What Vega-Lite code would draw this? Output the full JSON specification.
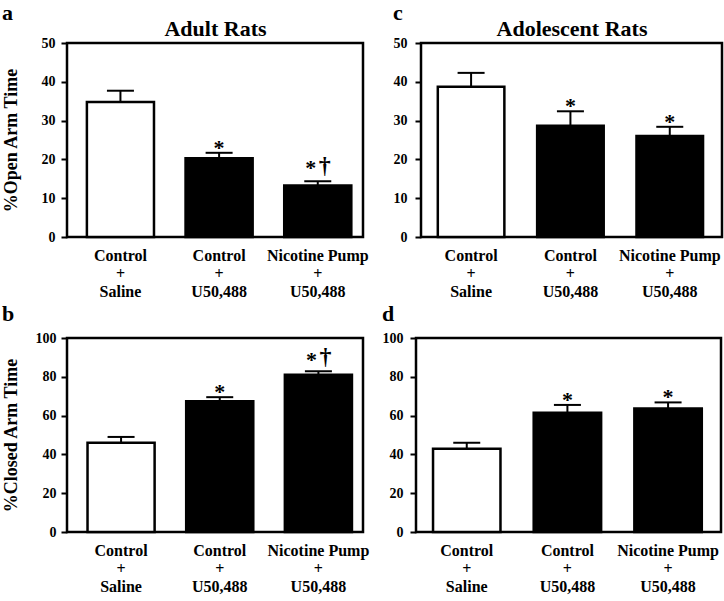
{
  "$schema": "https://vega.github.io/schema/vega-lite/v6.json",
  "padding": {"left": 0, "top": 0, "right": 0, "bottom": 0},
  "datasets": {
    "openAdult": [
      {"group": "Control|+|Saline", "mean": 34.8, "upper": 37.7, "star": "", "dagger": ""},
      {"group": "Control|+|U50,488", "mean": 20.3, "upper": 21.7, "star": "*", "dagger": ""},
      {"group": "Nicotine Pump|+|U50,488", "mean": 13.3, "upper": 14.4, "star": "*", "dagger": "†"}
    ],
    "openAdol": [
      {"group": "Control|+|Saline", "mean": 38.7, "upper": 42.3, "star": "", "dagger": ""},
      {"group": "Control|+|U50,488", "mean": 28.7, "upper": 32.4, "star": "*", "dagger": ""},
      {"group": "Nicotine Pump|+|U50,488", "mean": 26.0, "upper": 28.4, "star": "*", "dagger": ""}
    ],
    "closedAdult": [
      {"group": "Control|+|Saline", "mean": 46.0, "upper": 49.0, "star": "", "dagger": ""},
      {"group": "Control|+|U50,488", "mean": 67.4, "upper": 69.5, "star": "*", "dagger": ""},
      {"group": "Nicotine Pump|+|U50,488", "mean": 81.0, "upper": 82.8, "star": "*", "dagger": "†"}
    ],
    "closedAdol": [
      {"group": "Control|+|Saline", "mean": 42.9, "upper": 46.0, "star": "", "dagger": ""},
      {"group": "Control|+|U50,488", "mean": 61.5, "upper": 65.5, "star": "*", "dagger": ""},
      {"group": "Nicotine Pump|+|U50,488", "mean": 63.6, "upper": 66.8, "star": "*", "dagger": ""}
    ]
  },
  "vconcat": [
    {
      "hconcat": [
        {
          "width": 296, "height": 194,
          "data": {"name": "openAdult"},
          "title": {"text": "a", "offset": -8},
          "encoding": {
            "x": {"field": "group", "type": "nominal", "sort": null, "scale": {"paddingInner": 0.32, "paddingOuter": 0.16, "align": 0.63}, "axis": null},
            "y": {"field": "mean", "type": "quantitative", "scale": {"domain": [0, 50]},
              "axis": {"title": "%Open Arm Time", "values": [0, 10, 20, 30, 40, 50], "labelFontSize": 14, "tickSize": 6, "labelPadding": 6, "titleFontSize": 18, "titlePadding": 21}}
          },
          "layer": [
            {
              "mark": {"type": "bar", "stroke": "black", "strokeWidth": 2.5},
              "encoding": {
                "x": {"field": "group", "type": "nominal", "sort": null, "scale": {"paddingInner": 0.32, "paddingOuter": 0.16, "align": 0.63},
                  "axis": {"title": null, "labelExpr": "split(datum.label, '|')", "labelFontSize": 16, "labelLineHeight": 18, "ticks": false, "labelPadding": 10, "labelAngle": 0}},
                "color": {"field": "group", "type": "nominal", "sort": null, "scale": {"range": ["white", "black", "black"]}, "legend": null}
              }
            },
            {"mark": {"type": "rule", "strokeWidth": 2, "color": "black"}, "encoding": {"y2": {"field": "upper"}}},
            {"mark": {"type": "tick", "thickness": 2, "size": 27, "color": "black", "opacity": 1}, "encoding": {"y": {"field": "upper"}}},
            {"transform": [{"filter": "datum.dagger == ''"}], "mark": {"type": "text", "fontSize": 22, "fontWeight": "bold", "baseline": "alphabetic", "dy": 2}, "encoding": {"y": {"field": "upper"}, "text": {"field": "star"}}},
            {"transform": [{"filter": "datum.dagger != ''"}], "mark": {"type": "text", "fontSize": 22, "fontWeight": "bold", "baseline": "alphabetic", "dy": -6, "dx": -7}, "encoding": {"y": {"field": "upper"}, "text": {"field": "star"}}},
            {"transform": [{"filter": "datum.dagger != ''"}], "mark": {"type": "text", "fontSize": 24, "fontWeight": "bold", "baseline": "alphabetic", "dy": -8, "dx": 7}, "encoding": {"y": {"field": "upper"}, "text": {"field": "dagger"}}},
            {
              "mark": {"type": "tick", "opacity": 0},
              "encoding": {
                "x": {"field": "group", "type": "nominal", "sort": null, "scale": {"paddingInner": 0.32, "paddingOuter": 0.16, "align": 0.63},
                  "axis": {"orient": "top", "title": "Adult Rats", "labels": false, "ticks": false, "domain": false, "titleFontSize": 22, "titlePadding": 3}}
              }
            }
          ],
          "resolve": {"axis": {"x": "independent"}}
        },
        {
          "width": 301, "height": 194,
          "data": {"name": "openAdol"},
          "title": {"text": "c", "offset": -8},
          "encoding": {
            "x": {"field": "group", "type": "nominal", "sort": null, "scale": {"paddingInner": 0.33, "paddingOuter": 0.18, "align": 0.47}, "axis": null},
            "y": {"field": "mean", "type": "quantitative", "scale": {"domain": [0, 50]},
              "axis": {"title": null, "values": [0, 10, 20, 30, 40, 50], "labelFontSize": 14, "tickSize": 6, "labelPadding": 8}}
          },
          "layer": [
            {
              "mark": {"type": "bar", "stroke": "black", "strokeWidth": 2.5},
              "encoding": {
                "x": {"field": "group", "type": "nominal", "sort": null, "scale": {"paddingInner": 0.33, "paddingOuter": 0.18, "align": 0.47},
                  "axis": {"title": null, "labelExpr": "split(datum.label, '|')", "labelFontSize": 16, "labelLineHeight": 18, "ticks": false, "labelPadding": 10, "labelAngle": 0}},
                "color": {"field": "group", "type": "nominal", "sort": null, "scale": {"range": ["white", "black", "black"]}, "legend": null}
              }
            },
            {"mark": {"type": "rule", "strokeWidth": 2, "color": "black"}, "encoding": {"y2": {"field": "upper"}}},
            {"mark": {"type": "tick", "thickness": 2, "size": 27, "color": "black", "opacity": 1}, "encoding": {"y": {"field": "upper"}}},
            {"mark": {"type": "text", "fontSize": 22, "fontWeight": "bold", "baseline": "alphabetic", "dy": 2}, "encoding": {"y": {"field": "upper"}, "text": {"field": "star"}}},
            {
              "mark": {"type": "tick", "opacity": 0},
              "encoding": {
                "x": {"field": "group", "type": "nominal", "sort": null, "scale": {"paddingInner": 0.33, "paddingOuter": 0.18, "align": 0.47},
                  "axis": {"orient": "top", "title": "Adolescent Rats", "labels": false, "ticks": false, "domain": false, "titleFontSize": 22, "titlePadding": 3}}
              }
            }
          ],
          "resolve": {"axis": {"x": "independent"}}
        }
      ],
      "spacing": 21
    },
    {
      "hconcat": [
        {
          "width": 296, "height": 194,
          "data": {"name": "closedAdult"},
          "title": {"text": "b", "offset": 5},
          "encoding": {
            "x": {"field": "group", "type": "nominal", "sort": null, "scale": {"paddingInner": 0.32, "paddingOuter": 0.16, "align": 0.65},
              "axis": {"title": null, "labelExpr": "split(datum.label, '|')", "labelFontSize": 16, "labelLineHeight": 18, "ticks": false, "labelPadding": 10, "labelAngle": 0}},
            "y": {"field": "mean", "type": "quantitative", "scale": {"domain": [0, 100]},
              "axis": {"title": "%Closed Arm Time", "values": [0, 20, 40, 60, 80, 100], "labelFontSize": 14, "tickSize": 6, "labelPadding": 5, "titleFontSize": 18, "titlePadding": 15}}
          },
          "layer": [
            {
              "mark": {"type": "bar", "stroke": "black", "strokeWidth": 2.5},
              "encoding": {
                "color": {"field": "group", "type": "nominal", "sort": null, "scale": {"range": ["white", "black", "black"]}, "legend": null}
              }
            },
            {"mark": {"type": "rule", "strokeWidth": 2, "color": "black"}, "encoding": {"y2": {"field": "upper"}}},
            {"mark": {"type": "tick", "thickness": 2, "size": 27, "color": "black", "opacity": 1}, "encoding": {"y": {"field": "upper"}}},
            {"transform": [{"filter": "datum.dagger == ''"}], "mark": {"type": "text", "fontSize": 22, "fontWeight": "bold", "baseline": "alphabetic", "dy": 2}, "encoding": {"y": {"field": "upper"}, "text": {"field": "star"}}},
            {"transform": [{"filter": "datum.dagger != ''"}], "mark": {"type": "text", "fontSize": 22, "fontWeight": "bold", "baseline": "alphabetic", "dy": -4, "dx": -7}, "encoding": {"y": {"field": "upper"}, "text": {"field": "star"}}},
            {"transform": [{"filter": "datum.dagger != ''"}], "mark": {"type": "text", "fontSize": 24, "fontWeight": "bold", "baseline": "alphabetic", "dy": -7, "dx": 7}, "encoding": {"y": {"field": "upper"}, "text": {"field": "dagger"}}}
          ]
        },
        {
          "width": 305, "height": 194,
          "data": {"name": "closedAdol"},
          "title": {"text": "d", "offset": 5},
          "encoding": {
            "x": {"field": "group", "type": "nominal", "sort": null, "scale": {"paddingInner": 0.33, "paddingOuter": 0.18, "align": 0.47},
              "axis": {"title": null, "labelExpr": "split(datum.label, '|')", "labelFontSize": 16, "labelLineHeight": 18, "ticks": false, "labelPadding": 10, "labelAngle": 0}},
            "y": {"field": "mean", "type": "quantitative", "scale": {"domain": [0, 100]},
              "axis": {"title": null, "values": [0, 20, 40, 60, 80, 100], "labelFontSize": 14, "tickSize": 6, "labelPadding": 7}}
          },
          "layer": [
            {
              "mark": {"type": "bar", "stroke": "black", "strokeWidth": 2.5},
              "encoding": {
                "color": {"field": "group", "type": "nominal", "sort": null, "scale": {"range": ["white", "black", "black"]}, "legend": null}
              }
            },
            {"mark": {"type": "rule", "strokeWidth": 2, "color": "black"}, "encoding": {"y2": {"field": "upper"}}},
            {"mark": {"type": "tick", "thickness": 2, "size": 27, "color": "black", "opacity": 1}, "encoding": {"y": {"field": "upper"}}},
            {"mark": {"type": "text", "fontSize": 22, "fontWeight": "bold", "baseline": "alphabetic", "dy": 2}, "encoding": {"y": {"field": "upper"}, "text": {"field": "star"}}}
          ]
        }
      ],
      "spacing": 9
    }
  ],
  "spacing": 0,
  "config": {
    "font": "Liberation Serif",
    "view": {"stroke": "black", "strokeWidth": 2.5},
    "axis": {"labelFont": "Liberation Serif", "labelFontWeight": "bold", "labelColor": "black", "titleFont": "Liberation Serif", "titleFontWeight": "bold", "titleColor": "black", "grid": false, "domain": false, "tickColor": "black", "tickWidth": 2},
    "title": {"anchor": "start", "frame": "bounds", "fontSize": 22, "fontWeight": "bold", "font": "Liberation Serif", "color": "black"},
    "text": {"font": "Liberation Serif", "color": "black"}
  }
}
